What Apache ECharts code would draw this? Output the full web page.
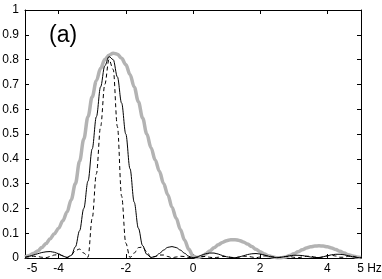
<!DOCTYPE html>
<html>
<head>
<meta charset="utf-8">
<script src="https://cdn.jsdelivr.net/npm/echarts@6/dist/echarts.min.js"></script>
<style>
  html, body { margin: 0; padding: 0; background: #fff; }
  #chart { width: 382px; height: 279px; }
</style>
</head>
<body>
<div id="chart"></div>
<script>
// frequency samples (Hz)
const freq = [
  -5, -4.875, -4.75, -4.625, -4.5, -4.375, -4.25, -4.125,
  -4, -3.875, -3.75, -3.625, -3.5, -3.375, -3.25, -3.125,
  -3, -2.875, -2.75, -2.625, -2.5, -2.375, -2.25, -2.125,
  -2, -1.875, -1.75, -1.625, -1.5, -1.375, -1.25, -1.125,
  -1, -0.875, -0.75, -0.625, -0.5, -0.375, -0.25, -0.125,
  0, 0.125, 0.25, 0.375, 0.5, 0.625, 0.75, 0.875,
  1, 1.125, 1.25, 1.375, 1.5, 1.625, 1.75, 1.875,
  2, 2.125, 2.25, 2.375, 2.5, 2.625, 2.75, 2.875,
  3, 3.125, 3.25, 3.375, 3.5, 3.625, 3.75, 3.875,
  4, 4.125, 4.25, 4.375, 4.5, 4.625, 4.75, 4.875,
  5
];

// thick gray curve
const grayCurve = [
  0.004, 0.01, 0.018, 0.028, 0.042, 0.058, 0.078, 0.098,
  0.12, 0.15, 0.185, 0.235, 0.3, 0.39, 0.48, 0.57,
  0.65, 0.715, 0.765, 0.8, 0.818, 0.826, 0.822, 0.805,
  0.78, 0.74, 0.69, 0.63, 0.565, 0.5, 0.445, 0.395,
  0.35, 0.3, 0.255, 0.205, 0.16, 0.115, 0.072, 0.035,
  0.008, 0.002, 0.006, 0.016, 0.028, 0.041, 0.053, 0.063,
  0.07, 0.074, 0.074, 0.071, 0.065, 0.056, 0.046, 0.035,
  0.025, 0.016, 0.009, 0.004, 0.001, 0.001, 0.004, 0.01,
  0.017, 0.025, 0.033, 0.04, 0.045, 0.048, 0.049, 0.048,
  0.045, 0.04, 0.034, 0.027, 0.02, 0.013, 0.008, 0.004,
  0.002
];

// solid black curve
const solidCurve = [
  0.003, 0.007, 0.012, 0.017, 0.022, 0.025, 0.026, 0.023,
  0.017, 0.008, 0.002, 0.01, 0.045, 0.11, 0.2, 0.31,
  0.44, 0.57, 0.69, 0.775, 0.812, 0.8, 0.73, 0.625,
  0.5, 0.36, 0.225, 0.12, 0.05, 0.015, 0.002, 0.006,
  0.018, 0.032, 0.043, 0.046, 0.042, 0.032, 0.019, 0.007,
  0.001, 0.004, 0.011, 0.017, 0.02, 0.02, 0.016, 0.01,
  0.005, 0.002, 0.001, 0.004, 0.009, 0.014, 0.017, 0.018,
  0.016, 0.012, 0.007, 0.003, 0.001, 0.003, 0.006, 0.009,
  0.011, 0.011, 0.01, 0.007, 0.004, 0.002, 0.002, 0.005,
  0.009, 0.013, 0.015, 0.015, 0.013, 0.009, 0.005, 0.002,
  0.001
];

// dashed black curve
const dashedCurve = [
  0.002, 0.005, 0.007, 0.006, 0.003, 0.001, 0.006, 0.012,
  0.014, 0.01, 0.002, 0.012, 0.03, 0.036, 0.02, 0.003,
  0.16, 0.34, 0.53, 0.7, 0.8, 0.76, 0.53, 0.25,
  0.06, 0.002, 0.02, 0.042, 0.044, 0.025, 0.003, 0.006,
  0.012, 0.012, 0.006, 0.001, 0.004, 0.007, 0.006, 0.002,
  0.001, 0.003, 0.006, 0.006, 0.003, 0.001, 0.003, 0.006,
  0.006, 0.003, 0.001, 0.004, 0.007, 0.007, 0.004, 0.001,
  0.004, 0.008, 0.009, 0.005, 0.001, 0.003, 0.006, 0.006,
  0.003, 0.001, 0.004, 0.007, 0.007, 0.004, 0.001, 0.004,
  0.009, 0.011, 0.008, 0.003, 0.003, 0.007, 0.007, 0.003,
  0.001
];

const xLabelValues = [-5, -4, -2, 0, 2, 4, 5];
const xTickValues = [-4, -2, 0, 2, 4];

const chart = echarts.init(document.getElementById('chart'));

const pairs = (ys) => freq.map((x, i) => [x, ys[i]]);
const font = 'Liberation Sans, Arial, sans-serif';

const lineSeries = (name, ys, style) => ({
  name: name,
  type: 'line',
  data: pairs(ys),
  showSymbol: false,
  smooth: 0.35,
  smoothMonotone: 'x',
  silent: true,
  lineStyle: style
});

const axisLine = { show: true, onZero: false, lineStyle: { color: '#000', width: 1 } };

const option = {
  animation: false,
  backgroundColor: '#fff',
  grid: { left: 25, right: 21, top: 10, bottom: 21, outerBoundsMode: 'none' },
  xAxis: [{
    type: 'value',
    min: -5,
    max: 5,
    interval: 1,
    axisLine: axisLine,
    axisTick: { inside: true, length: 4, customValues: xTickValues, lineStyle: { color: '#000' } },
    splitLine: { show: false },
    axisLabel: {
      customValues: xLabelValues,
      margin: 5,
      color: '#000',
      fontFamily: font,
      fontSize: 12,
      formatter: (v) => {
        if (v === -5) return '{l|-5}';
        if (v === 5) return '{r|5 Hz}';
        return String(v);
      },
      rich: {
        l: { fontFamily: font, fontSize: 12, color: '#000', padding: [0, 0, 0, 14] },
        r: { fontFamily: font, fontSize: 12, color: '#000', padding: [0, 0, 0, 17] }
      }
    }
  }, {
    type: 'value',
    position: 'top',
    min: -5,
    max: 5,
    interval: 1,
    axisLine: axisLine,
    axisTick: { inside: true, length: 4, customValues: xTickValues, lineStyle: { color: '#000' } },
    axisLabel: { show: false },
    splitLine: { show: false }
  }],
  yAxis: [{
    type: 'value',
    position: 'left',
    min: 0,
    max: 1,
    interval: 0.1,
    axisLine: axisLine,
    axisTick: { inside: true, length: 4, lineStyle: { color: '#000' } },
    splitLine: { show: false },
    axisLabel: { margin: 6, color: '#000', fontFamily: font, fontSize: 12 }
  }, {
    type: 'value',
    position: 'right',
    min: 0,
    max: 1,
    interval: 0.1,
    axisLine: axisLine,
    axisTick: { inside: true, length: 4, lineStyle: { color: '#000' } },
    splitLine: { show: false },
    axisLabel: { show: false }
  }],
  graphic: [{
    type: 'text',
    left: 49,
    top: 24,
    style: { text: '(a)', fontFamily: font, fontSize: 23, fill: '#000' }
  }],
  series: [
    lineSeries('gray', grayCurve, { color: '#b3b3b3', width: 3.5 }),
    lineSeries('solid', solidCurve, { color: '#000', width: 1 }),
    lineSeries('dashed', dashedCurve, { color: '#000', width: 1, type: [4, 3] })
  ]
};

chart.setOption(option);
</script>
</body>
</html>
